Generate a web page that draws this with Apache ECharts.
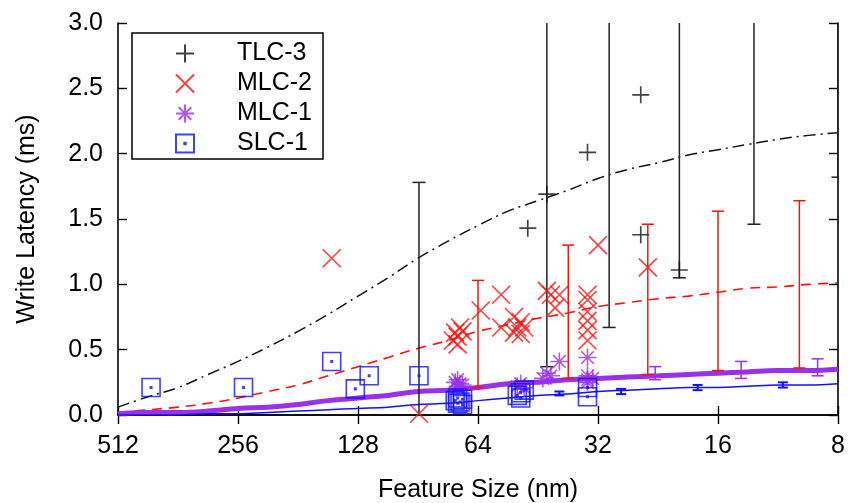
<!DOCTYPE html>
<html><head><meta charset="utf-8">
<script src="https://cdn.jsdelivr.net/npm/echarts@6/dist/echarts.min.js"></script>
<style>html,body{margin:0;padding:0;background:#fff}#c{width:850px;height:503px}</style>
</head><body><div id="c"></div>
<script>
// ---- data (feature size nm, write latency ms) ----
const xTickLabels = ['512','256','128','64','32','16','8'];
const yTickLabels = ['0.0','0.5','1.0','1.5','2.0','2.5','3.0'];

const fitSizes = [512, 430.5, 362, 304.4, 256, 215.3, 181, 152.2, 128, 107.6, 90.5, 76.1, 64, 53.8, 45.3, 38.1, 32, 26.9, 22.6, 19, 16, 13.5, 11.3, 9.5, 8];
const fitTLC3 = [0.06,0.14,0.21,0.31,0.41,0.52,0.64,0.77,0.91,1.05,1.20,1.33,1.45,1.56,1.64,1.72,1.81,1.88,1.93,1.99,2.03,2.07,2.11,2.14,2.16];
const fitMLC2 = [0.02,0.04,0.06,0.09,0.13,0.18,0.23,0.30,0.37,0.44,0.51,0.57,0.64,0.69,0.74,0.78,0.83,0.86,0.89,0.91,0.94,0.97,0.98,1.00,1.01];
const fitMLC1 = [0.01,0.02,0.02,0.03,0.05,0.06,0.08,0.11,0.13,0.15,0.18,0.19,0.21,0.24,0.25,0.27,0.28,0.29,0.30,0.31,0.32,0.33,0.34,0.34,0.35];
const fitSLC1 = [0.00,0.00,0.00,0.01,0.01,0.02,0.03,0.04,0.05,0.06,0.08,0.09,0.11,0.13,0.15,0.16,0.18,0.19,0.20,0.21,0.21,0.22,0.23,0.23,0.24];

const ptsTLC3 = [[48,1.43],[43,1.69],[34,2.01],[25,2.45],[25,1.38],[20,1.11]];
const ptsMLC2 = [[149,1.20],[90,0.01],
  [73,0.63],[71,0.67],[74,0.57],[72,0.54],[70,0.64],[72,0.60],
  [63,0.80],[56,0.92],[56,0.67],
  [52,0.75],[50,0.71],[51,0.67],[52,0.63],[49,0.67],[50,0.62],
  [43,0.95],[42,0.92],[40,0.92],[41,0.82],
  [34,0.92],[34,0.88],[34,0.79],[34,0.72],[34,0.65],[34,0.57],
  [32,1.30],[24,1.13]];
const ptsMLC1 = [[73,0.25],[71,0.24],[72,0.27],[70,0.23],[72,0.22],
  [50,0.24],[51,0.22],[49,0.21],
  [43,0.32],[44,0.28],[42,0.30],[40,0.41],
  [34,0.44],[34,0.30],[34,0.27],[34,0.25],[33,0.28]];
const ptsSLC1 = [[423,0.21],[248,0.21],[149,0.41],[130,0.20],[120,0.30],[90,0.30],
  [72,0.13],[70,0.12],[71,0.10],[72,0.09],[70,0.08],[73,0.11],
  [50,0.13],[51,0.15],[50,0.17],[49,0.19],
  [34,0.14],[34,0.21]];

// error bars: [size, low, high]
const errTLC3 = [[90,0.0,1.78],[43,0.37,3.5],[30,0.67,3.5],[20,1.05,3.5],[13,1.46,3.5],[8,1.82,3.5]];
const errMLC2 = [[64,0.21,1.03],[38,0.28,1.30],[24,0.31,1.46],[16,0.34,1.56],[10,0.36,1.64]];
const errMLC1 = [[23,0.27,0.37],[14,0.28,0.41],[9,0.30,0.43]];
const errSLC1 = [[40,0.15,0.18],[28,0.16,0.20],[18,0.19,0.23],[11,0.21,0.25]];

// ---- styles ----
const FONT = "'Liberation Sans', Arial, Helvetica, sans-serif";
const C_BLACK = '#111', C_RED = '#ff1010', C_PURPLE = '#9a30e8', C_BLUE = '#1010ff';
const SYM_PLUS = 'path://M0,5L10,5M5,0L5,10';
const SYM_CROSS = 'path://M0,0L10,10M10,0L0,10';
const SYM_STAR = 'path://M0,5L10,5M5,0L5,10M1.5,1.5L8.5,8.5M8.5,1.5L1.5,8.5';
const SYM_SQDOT = 'path://M0,0L10,0L10,10L0,10ZM4.6,4.6L5.4,4.6L5.4,5.4L4.6,5.4Z';

function zip(xs, ys) { return xs.map((x, i) => [x, ys[i]]); }

function fitLine(data, color, width, type, z) {
  return { type: 'line', data: data, showSymbol: false, symbol: 'none', smooth: 0.4, z: z,
    lineStyle: { color: color, width: width, type: type }, silent: true };
}
function scatter(name, data, sym, color, size, z) {
  return { type: 'scatter', name: name, data: data, symbol: sym, symbolSize: size, z: z,
    itemStyle: { color: 'rgba(0,0,0,0)', borderColor: color, borderWidth: 1.6 } };
}
function errBars(data, color, cap, lw, z) {
  return { type: 'custom', data: data, clip: true, z: z, encode: { x: 0, y: [1, 2] }, silent: true,
    renderItem: function (params, api) {
      const x = api.value(0), lo = api.value(1), hi = api.value(2);
      const a = api.coord([x, lo]), b = api.coord([x, hi]);
      const h = cap / 2;
      const st = { stroke: color, lineWidth: lw };
      return { type: 'group', children: [
        { type: 'line', shape: { x1: a[0], y1: a[1], x2: b[0], y2: b[1] }, style: st },
        { type: 'line', shape: { x1: a[0] - h, y1: a[1], x2: a[0] + h, y2: a[1] }, style: st },
        { type: 'line', shape: { x1: b[0] - h, y1: b[1], x2: b[0] + h, y2: b[1] }, style: st }
      ] };
    } };
}

const axisLine = { show: true, lineStyle: { color: '#000', width: 1.6 } };
const tickIn = { show: true, inside: true, length: 9, lineStyle: { color: '#000', width: 1.4 } };
const labelStyle = { color: '#000', fontSize: 25, fontFamily: FONT };

const chart = echarts.init(document.getElementById('c'), null, { renderer: 'canvas' });
chart.setOption({
  backgroundColor: '#fff',
  animation: false,
  grid: { left: 118, right: 12, top: 23, bottom: 88, outerBoundsMode: 'none', show: false },
  xAxis: [
    { type: 'log', logBase: 2, min: 8, max: 512, inverse: true, position: 'bottom',
      axisLine: axisLine, axisTick: tickIn, splitLine: { show: false },
      axisLabel: Object.assign({ margin: 19, formatter: v => xTickLabels[Math.round(Math.log2(512 / v))] }, labelStyle),
      name: 'Feature Size (nm)', nameLocation: 'middle', nameGap: 63,
      nameTextStyle: { color: '#000', fontSize: 25, fontFamily: FONT } },
    { type: 'log', logBase: 2, min: 8, max: 512, inverse: true, position: 'top',
      axisLine: axisLine, axisTick: tickIn, splitLine: { show: false }, axisLabel: { show: false } }
  ],
  yAxis: [
    { type: 'value', min: 0, max: 3, interval: 0.5, position: 'left',
      axisLine: axisLine, axisTick: tickIn, splitLine: { show: false },
      axisLabel: Object.assign({ margin: 15, formatter: v => yTickLabels[Math.round(v * 2)] }, labelStyle),
      name: 'Write Latency (ms)', nameLocation: 'middle', nameGap: 78,
      nameTextStyle: { color: '#000', fontSize: 25, fontFamily: FONT } },
    { type: 'value', min: 0, max: 3, interval: 0.5, position: 'right',
      axisLine: axisLine, axisTick: tickIn, splitLine: { show: false }, axisLabel: { show: false } }
  ],
  legend: {
    data: ['TLC-3', 'MLC-2', 'MLC-1', 'SLC-1'],
    orient: 'vertical', left: 132, top: 33,
    itemWidth: 94, itemHeight: 18, itemGap: 5,
    padding: [8, 11, 3, 43],
    borderColor: '#000', borderWidth: 1.5, backgroundColor: '#fff', borderRadius: 0,
    selectedMode: false,
    textStyle: { color: '#000', fontSize: 25, fontFamily: FONT }
  },
  series: [
    fitLine(zip(fitSizes, fitTLC3), C_BLACK, 1.5, [12, 5, 2, 5], 2),
    fitLine(zip(fitSizes, fitMLC2), C_RED, 1.6, [10, 7], 2),
    fitLine(zip(fitSizes, fitMLC1), C_PURPLE, 5, 'solid', 2),
    fitLine(zip(fitSizes, fitSLC1), C_BLUE, 1.5, 'solid', 2),
    errBars(errTLC3, '#222', 13, 1.5, 3),
    errBars(errMLC2, C_RED, 12, 1.5, 3),
    errBars(errMLC1, C_PURPLE, 12, 1.5, 3),
    errBars(errSLC1, C_BLUE, 10, 2, 3),
    scatter('TLC-3', ptsTLC3, SYM_PLUS, C_BLACK, 17, 5),
    scatter('MLC-2', ptsMLC2, SYM_CROSS, C_RED, 18, 5),
    scatter('MLC-1', ptsMLC1, SYM_STAR, C_PURPLE, 18, 5),
    scatter('SLC-1', ptsSLC1, SYM_SQDOT, C_BLUE, 18, 6)
  ]
});
</script>
</body></html>
